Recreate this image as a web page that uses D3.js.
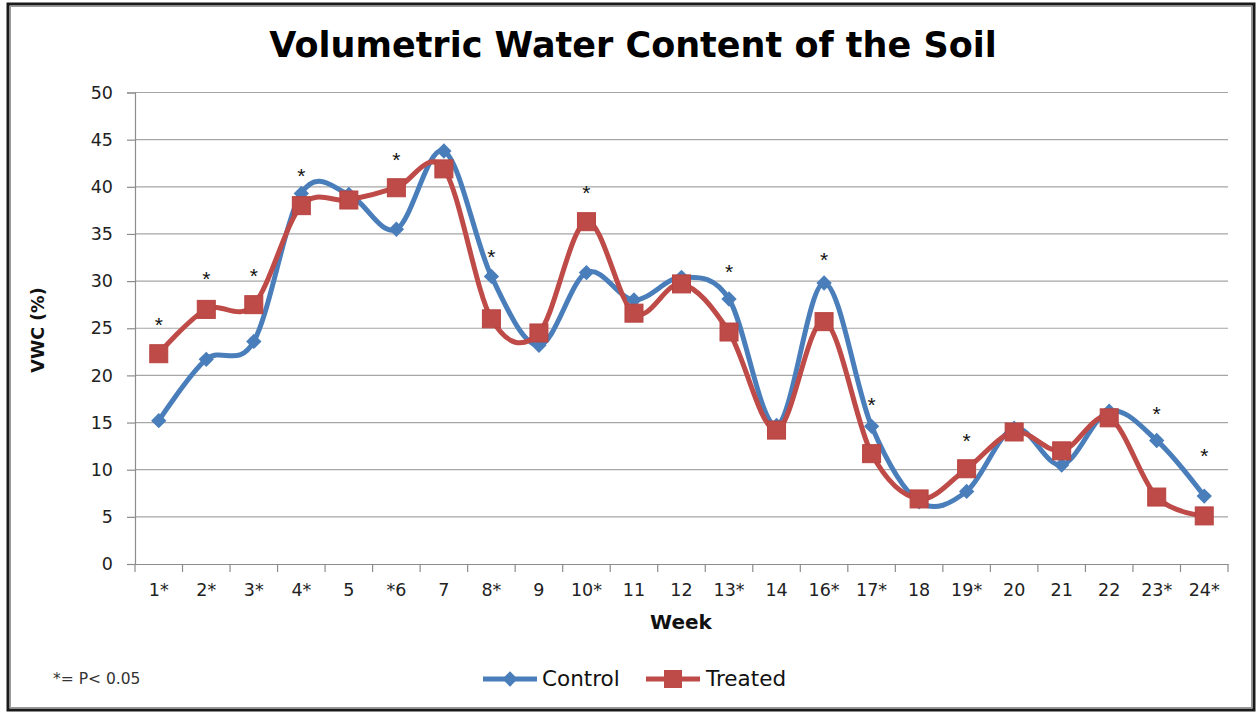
<!DOCTYPE html>
<html><head><meta charset="utf-8">
<script src="https://cdn.jsdelivr.net/npm/d3@7"></script>
<style>body{margin:0;background:#fff}svg{display:block}</style>
</head><body>
<script>
const weeks = ["1*","2*","3*","4*","5","*6","7","8*","9","10*","11","12","13*","14","16*","17*","18","19*","20","21","22","23*","24*"];
const control = [15.2,21.7,23.6,39.3,39.2,35.5,43.8,30.5,23.2,30.9,28.0,30.4,28.1,14.7,29.8,14.6,6.6,7.7,14.4,10.5,16.2,13.1,7.2];
const treated = [22.3,27.0,27.5,38.0,38.6,39.9,41.9,26.0,24.5,36.3,26.6,29.7,24.6,14.2,25.7,11.7,6.9,10.1,14.0,12.0,15.5,7.1,5.1];
const starWeeks = ["1*","2*","3*","4*","*6","8*","10*","13*","16*","17*","19*","23*","24*"];
const starLevel = [25.6,30.4,30.8,41.4,43.1,32.8,39.6,31.2,32.4,17.1,13.3,16.1,11.7];
const yTicks = [0,5,10,15,20,25,30,35,40,45,50];

const W=1260,H=712;
const svg=d3.select("body").append("svg").attr("width",W).attr("height",H);
svg.append("rect").attr("width",W).attr("height",H).attr("fill","#fff");
svg.append("rect").attr("x",8).attr("y",4).attr("width",1246).attr("height",706)
  .attr("fill","none").attr("stroke","#1a1a1a").attr("stroke-width",3);
svg.append("rect").attr("x",10.5).attr("y",6.5).attr("width",1241).attr("height",701)
  .attr("fill","none").attr("stroke","#9a9a9a").attr("stroke-width",1);

const L=135,R=1228,T=92.5,B=564;
const x=d3.scaleBand().domain(weeks).range([L,R]).padding(0);
const y=d3.scaleLinear().domain([0,50]).range([B,T]);
const font="DejaVu Sans, Verdana, sans-serif";

// grid
svg.append("g").selectAll("line").data(yTicks.filter(d=>d>0)).join("line")
  .attr("x1",L).attr("x2",R).attr("y1",d=>y(d)).attr("y2",d=>y(d))
  .attr("stroke","#a6a6a6").attr("stroke-width",1.2);

// y axis
const ya=svg.append("g").attr("transform",`translate(${L},0)`)
  .call(d3.axisLeft(y).tickValues(yTicks).tickSize(8).tickPadding(14));
ya.select(".domain").attr("stroke","#8c8c8c").attr("stroke-width",1.2);
ya.selectAll(".tick line").attr("stroke","#8c8c8c").attr("stroke-width",1.2);
ya.selectAll("text").attr("font-family",font).attr("font-size",17.5).attr("fill","#222");

// x axis
const xa=svg.append("g").attr("transform",`translate(0,${B})`)
  .call(d3.axisBottom(x).tickSize(0).tickPadding(20));
xa.select(".domain").attr("stroke","#8c8c8c").attr("stroke-width",1.2);
xa.selectAll("text").attr("font-family",font).attr("font-size",17.5).attr("fill","#222");
const bounds=weeks.map(w=>x(w)).concat([R]);
svg.append("g").selectAll("line").data(bounds).join("line")
  .attr("x1",d=>d).attr("x2",d=>d).attr("y1",B).attr("y2",B+8)
  .attr("stroke","#8c8c8c").attr("stroke-width",1.2);

const cx=w=>x(w)+x.bandwidth()/2;
const line=d3.line().x((d,i)=>cx(weeks[i])).y(d=>y(d)).curve(d3.curveCardinal.tension(0));

const blue="#4a7ebb", red="#be4b48";
svg.append("path").datum(control).attr("d",line).attr("fill","none").attr("stroke",blue).attr("stroke-width",5).attr("stroke-linejoin","round");
svg.append("path").datum(treated).attr("d",line).attr("fill","none").attr("stroke",red).attr("stroke-width",5).attr("stroke-linejoin","round");

const diamond=d3.symbol().type(d3.symbolDiamond2).size(150);
svg.append("g").selectAll("path").data(control).join("path")
  .attr("d",diamond).attr("transform",(d,i)=>`translate(${cx(weeks[i])},${y(d)})`).attr("fill",blue);
svg.append("g").selectAll("rect").data(treated).join("rect")
  .attr("x",(d,i)=>cx(weeks[i])-9).attr("y",d=>y(d)-9).attr("width",18).attr("height",18)
  .attr("fill",red).attr("stroke","#b84441").attr("stroke-width",1);

// significance asterisks
svg.append("g").selectAll("text").data(starWeeks).join("text")
  .attr("x",w=>cx(w)).attr("y",(w,i)=>y(starLevel[i])+9).attr("text-anchor","middle")
  .attr("font-family","Liberation Sans, Arial, sans-serif").attr("font-size",21).attr("fill","#111").text("*");

// title
svg.append("text").attr("x",633).attr("y",57).attr("text-anchor","middle")
  .attr("font-family",font).attr("font-weight","bold").attr("font-size",35).attr("fill","#000")
  .text("Volumetric Water Content of the Soil");
// axis titles
svg.append("text").attr("x",681).attr("y",629).attr("text-anchor","middle")
  .attr("font-family",font).attr("font-weight","bold").attr("font-size",20).attr("fill","#111").text("Week");
svg.append("text").attr("transform","translate(44,330) rotate(-90)").attr("text-anchor","middle")
  .attr("font-family",font).attr("font-weight","bold").attr("font-size",17.5).attr("fill","#111").text("VWC (%)");

// footnote
svg.append("text").attr("x",53).attr("y",684).attr("font-family",font).attr("font-size",15.5).attr("fill","#333").text("*= P< 0.05");

// legend
const lg=svg.append("g");
lg.append("line").attr("x1",483).attr("x2",537).attr("y1",679).attr("y2",679).attr("stroke",blue).attr("stroke-width",5);
lg.append("path").attr("d",diamond).attr("transform","translate(510,679)").attr("fill",blue);
lg.append("text").attr("x",542).attr("y",686).attr("font-family",font).attr("font-size",21.5).attr("fill","#111").text("Control");
lg.append("line").attr("x1",646).attr("x2",700).attr("y1",679).attr("y2",679).attr("stroke",red).attr("stroke-width",5);
lg.append("rect").attr("x",664).attr("y",670).attr("width",18).attr("height",18).attr("fill",red);
lg.append("text").attr("x",706).attr("y",686).attr("font-family",font).attr("font-size",21.5).attr("fill","#111").text("Treated");
</script>
</body></html>
